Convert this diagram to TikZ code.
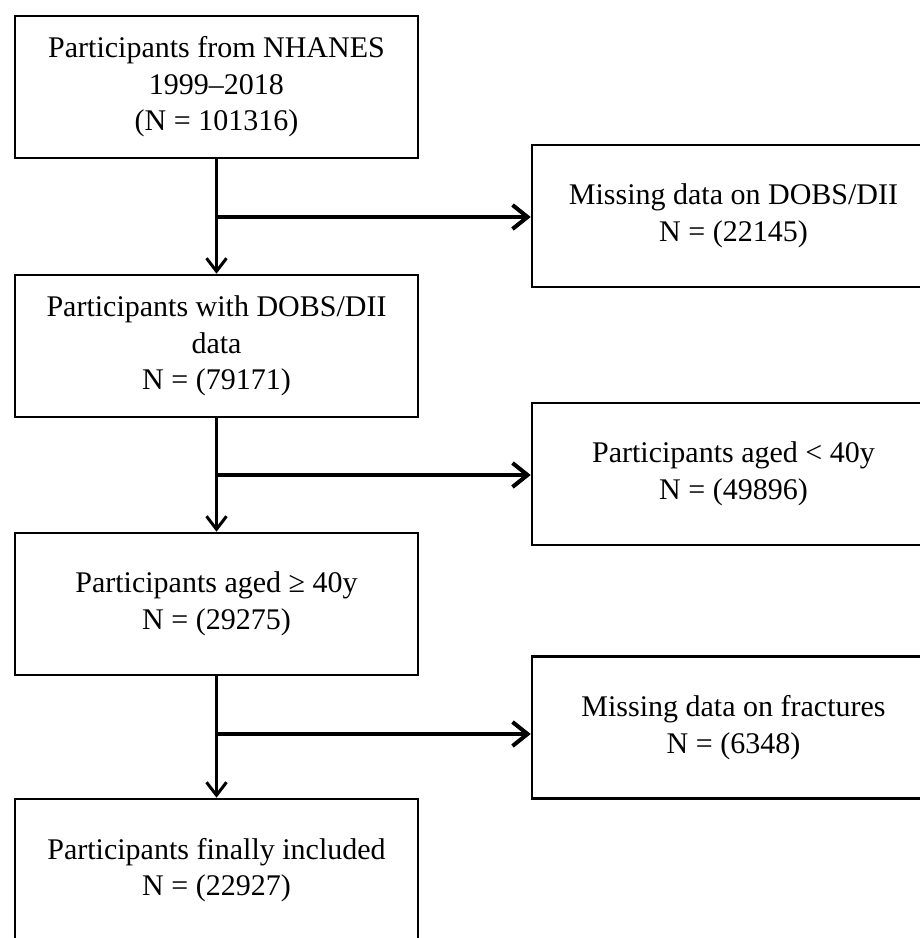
\documentclass[tikz,border=0pt]{standalone}
\usepackage{fontspec}
\setmainfont{Liberation Serif}
\usetikzlibrary{arrows.meta}
\begin{document}
\begin{tikzpicture}[x=1pt,y=-1pt,
  box/.style={draw, line width=2.6pt, minimum width=403pt, minimum height=142pt,
    inner sep=0pt, align=center, font=\fontsize{30}{36.5}\selectfont},
  vline/.style={line width=3pt, -{Straight Barb[length=13pt,width=20pt,line width=3pt]}},
  hline/.style={line width=4pt, -{Straight Barb[length=15pt,width=24pt,line width=4pt]}}]
\useasboundingbox (0,0) rectangle (920,938);
\clip (0,0) rectangle (920,938);
\node[box] (b1) at (216.5,87) {Participants from NHANES\\1999–2018\\(N = 101316)};
\node[box] (b2) at (216.5,346) {Participants with DOBS/DII\\data\\N = (79171)};
\node[box] (b3) at (216.5,604) {Participants aged ≥ 40y\\N = (29275)};
\node[box] (b4) at (216.5,870) {Participants finally included\\N = (22927)};
\node[box] (r1) at (733.5,216) {Missing data on DOBS/DII\\N = (22145)};
\node[box] (r2) at (733.5,474) {Participants aged < 40y\\N = (49896)};
\node[box] (r3) at (733.5,727.5) {Missing data on fractures\\N = (6348)};
\coordinate (j1) at (216.5,217);
\coordinate (j2) at (216.5,475);
\coordinate (j3) at (216.5,734);
\draw[vline] (b1.south) -- (b2.north);
\draw[vline] (b2.south) -- (b3.north);
\draw[vline] (b3.south) -- (b4.north);
\draw[hline] (j1) -- (j1 -| r1.west);
\draw[hline] (j2) -- (j2 -| r2.west);
\draw[hline] (j3) -- (j3 -| r3.west);
\end{tikzpicture}
\end{document}
